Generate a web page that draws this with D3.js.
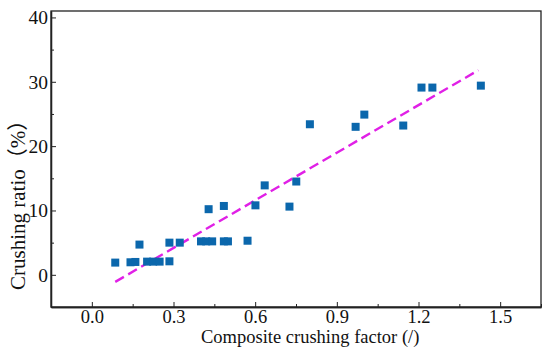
<!DOCTYPE html>
<html>
<head>
<meta charset="utf-8">
<script src="https://cdn.jsdelivr.net/npm/d3@7"></script>
<style>
    body { margin: 0; background: #fff; }
</style>
</head>
<body>
<div id="chart"></div>
<script>
// Measured points (composite crushing factor, crushing ratio %)
const xValues = [0.086, 0.142, 0.160, 0.175, 0.203, 0.225, 0.249, 0.285, 0.285, 0.323,
    0.401, 0.420, 0.442, 0.429, 0.485, 0.500, 0.485, 0.572, 0.601, 0.635,
    0.726, 0.751, 0.801, 0.969, 1.001, 1.144, 1.211, 1.251, 1.429];
const yValues = [1.9, 1.95, 2.0, 4.7, 2.05, 2.05, 2.05, 2.1, 5.0, 5.0,
    5.2, 5.2, 5.2, 10.2, 5.2, 5.2, 10.7, 5.3, 10.8, 13.9,
    10.6, 14.5, 23.4, 23.0, 24.9, 23.2, 29.1, 29.1, 29.4];

// Fitted line end points
const fitX = [0.086, 1.42];
const fitY = [-1.1, 31.8];

const xTicks = [0.0, 0.3, 0.6, 0.9, 1.2, 1.5];
const xMinorTicks = [-0.15, 0.15, 0.45, 0.75, 1.05, 1.35, 1.65];
const yTicks = [0, 10, 20, 30, 40];
const yMinorTicks = [-5, 5, 15, 25, 35];

const SERIF = '"Liberation Serif", "Times New Roman", serif';

const width = 550, height = 357;
const margin = {top: 11, right: 9, bottom: 50, left: 51};
const w = width - margin.left - margin.right;
const h = height - margin.top - margin.bottom;

let svg = d3.select('#chart')
    .append('svg')
    .attr('width', width)
    .attr('height', height)
    .append('g')
    .attr('transform', 'translate(' + margin.left + ',' + margin.top + ')');

let x = d3.scaleLinear().domain([-0.15, 1.65]).range([0, w]);
let y = d3.scaleLinear().domain([-5, 41]).range([h, 0]);

// Frame
svg.append('rect')
    .attr('width', w)
    .attr('height', h)
    .attr('fill', 'none')
    .attr('stroke', '#222')
    .attr('stroke-width', 1.3);

// X axis (ticks inside)
let xAxis = svg.append('g')
    .attr('transform', 'translate(0,' + h + ')')
    .call(d3.axisBottom(x).tickValues(xTicks).tickSizeInner(-5).tickSizeOuter(0).tickPadding(3)
        .tickFormat(d3.format('.1f')));
svg.append('g')
    .attr('transform', 'translate(0,' + h + ')')
    .call(d3.axisBottom(x).tickValues(xMinorTicks).tickSizeInner(-3).tickSizeOuter(0).tickFormat(''));

// Y axis (ticks inside)
let yAxis = svg.append('g')
    .call(d3.axisLeft(y).tickValues(yTicks).tickSizeInner(-5).tickSizeOuter(0).tickPadding(3));
svg.append('g')
    .call(d3.axisLeft(y).tickValues(yMinorTicks).tickSizeInner(-3).tickSizeOuter(0).tickFormat(''));

svg.selectAll('.domain').attr('stroke', '#222').attr('stroke-width', 1.3);
svg.selectAll('.tick line').attr('stroke', '#222').attr('stroke-width', 1);
xAxis.attr('font-family', null);
yAxis.attr('font-family', null);
xAxis.selectAll('.tick text')
    .style('font-family', SERIF).style('font-size', '18.5px').style('fill', '#111');
yAxis.selectAll('.tick text')
    .style('font-family', SERIF).style('font-size', '19.5px').style('fill', '#111');

// Fit line
svg.append('path')
    .datum(d3.zip(fitX, fitY))
    .attr('fill', 'none')
    .attr('stroke', '#e020e6')
    .attr('stroke-width', 2.4)
    .attr('stroke-dasharray', '10,5')
    .attr('d', d3.line().x(d => x(d[0])).y(d => y(d[1])));

// Points
const size = 8;
svg.append('g')
    .selectAll('rect')
    .data(d3.zip(xValues, yValues))
    .enter()
    .append('rect')
    .attr('x', d => x(d[0]) - size / 2)
    .attr('y', d => y(d[1]) - size / 2)
    .attr('width', size)
    .attr('height', size)
    .attr('fill', '#0b67ac');

// Axis titles
svg.append('text')
    .attr('x', 201 - margin.left)
    .attr('y', 343 - margin.top)
    .style('font-family', SERIF)
    .style('font-size', '18.5px')
    .style('fill', '#111')
    .text('Composite crushing factor (/)');

svg.append('text')
    .attr('transform', 'translate(' + (25 - margin.left) + ',' + (290 - margin.top) + ') rotate(-90)')
    .style('font-family', SERIF + ', "Noto Sans CJK SC"')
    .style('font-size', '21px')
    .style('fill', '#111')
    .text('Crushing ratio（%）');
</script>
</body>
</html>
